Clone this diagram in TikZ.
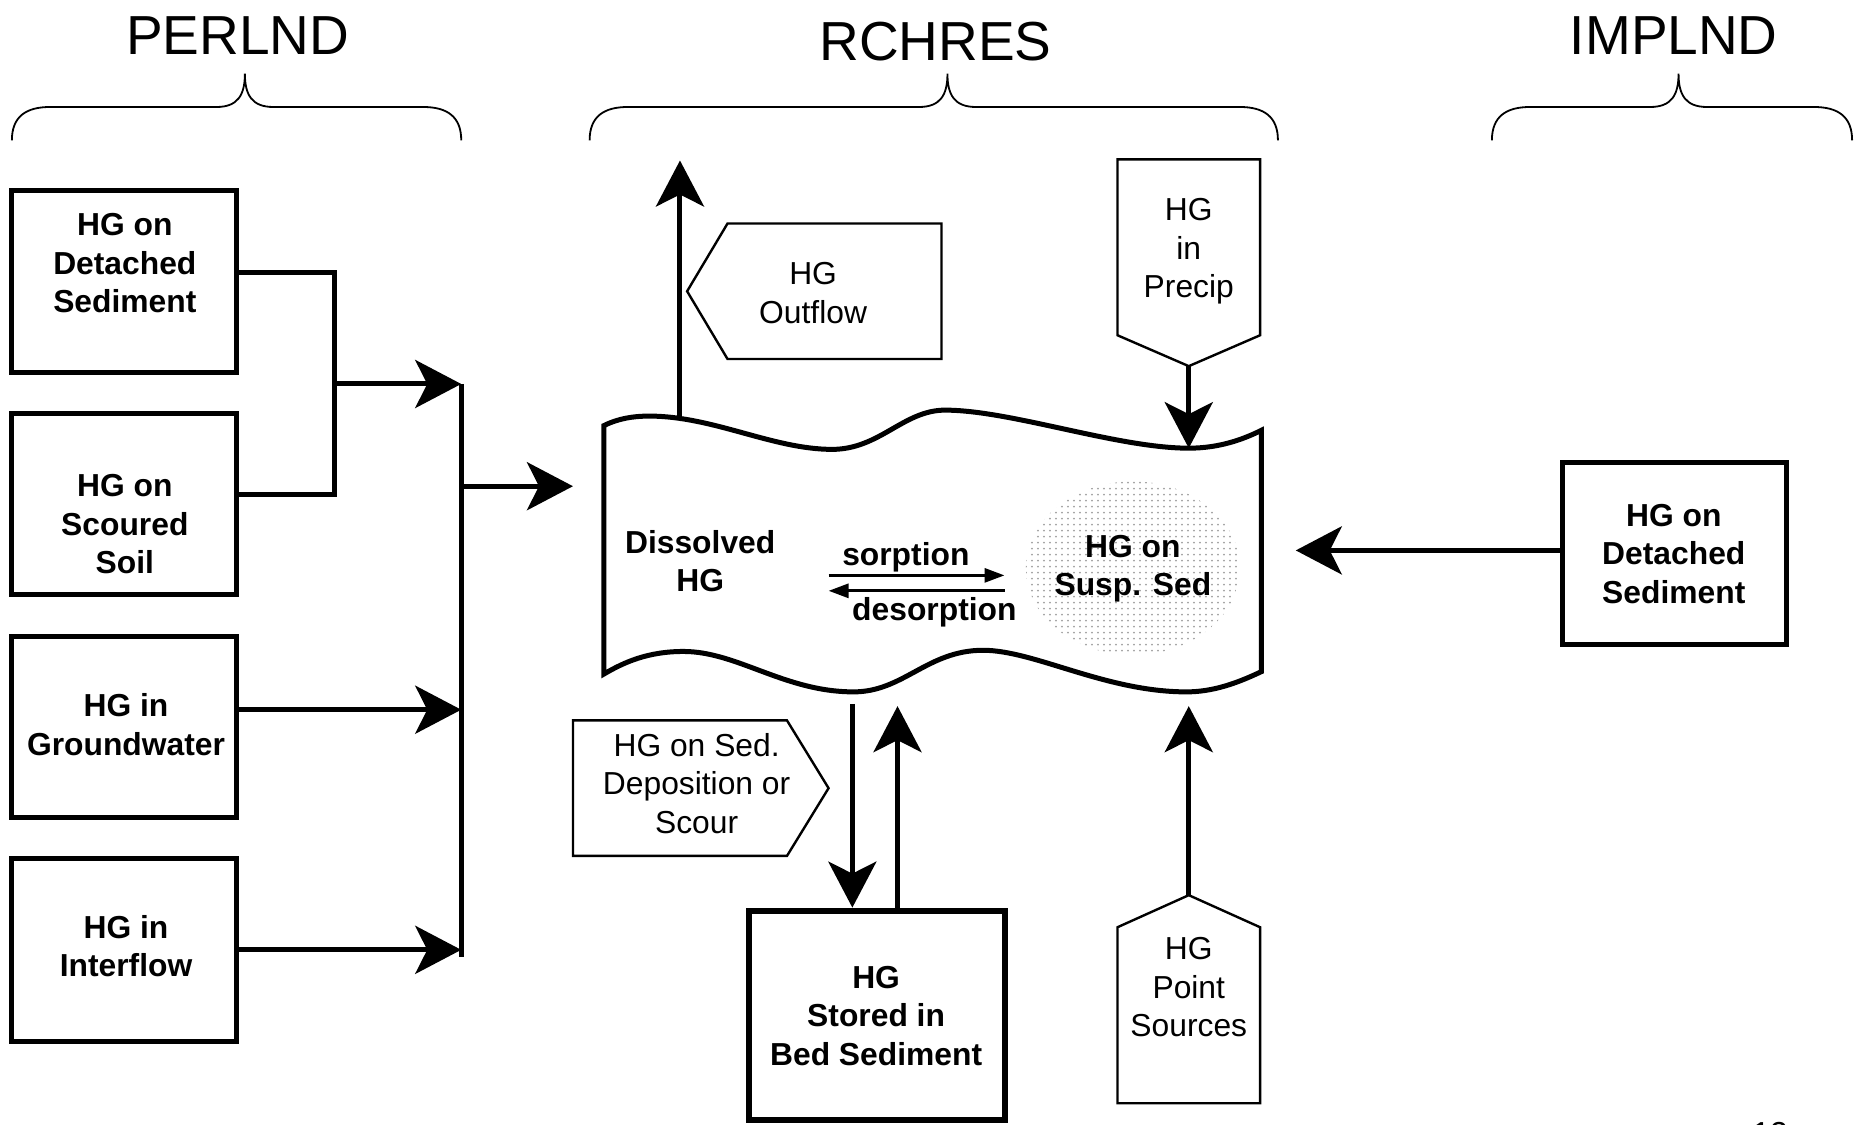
\documentclass[tikz,border=0pt]{standalone}
\usepackage{fontspec}
\setmainfont{Liberation Sans}
\usetikzlibrary{arrows.meta,patterns,shapes.geometric}
\newcommand{\upx}{0.5944pt}
\newcommand{\hgbrace}[3]{%
  \draw[brace] (#1,118) .. controls (#1,98) and (#1+12,90) .. (#1+32,90) -- (#2-24,90)
    .. controls (#2-6,90) and (#2,80) .. (#2,62)
    .. controls (#2,80) and (#2+6,90) .. (#2+24,90) -- (#3-32,90)
    .. controls (#3-12,90) and (#3,98) .. (#3,118);}
\tikzset{
  bigbox/.style={draw, line width=2.5pt, rectangle, inner sep=0pt},
  btxt/.style={font=\bfseries\fontsize{15.9}{19.3}\selectfont, align=center, inner sep=0pt},
  rtxt/.style={font=\fontsize{15.9}{19.3}\selectfont, align=center, inner sep=0pt},
  ttl/.style={font=\fontsize{27.5}{33}\selectfont, inner sep=0pt},
  flow/.style={line width=2.5pt, -{Stealth[length=23pt,width=24pt,inset=6pt]}},
  pipe/.style={line width=2.5pt},
  thinflow/.style={line width=1.5pt, -{Triangle[length=10pt,width=7pt]}},
  tag/.style={draw, line width=1.2pt, line join=miter},
  brace/.style={line width=0.9pt},
  wave/.style={draw, line width=2.5pt, line join=miter},
}
\begin{document}
\begin{tikzpicture}[x=0.5944pt,y=-0.5944pt]
\useasboundingbox (0,0) rectangle (1568,946);

% titles and braces
\node[ttl] (tp) at (200,30) {PERLND};
\node[ttl] (tr) at (787,35) {RCHRES};
\node[ttl] (ti) at (1408,30) {IMPLND};
\hgbrace{10}{206}{388}
\hgbrace{496}{797}{1075}
\hgbrace{1255}{1412}{1558}

% PERLND boxes
\node[bigbox, minimum width=189*\upx, minimum height=153*\upx] (d1) at (104.5,236.5) {};
\node[btxt] (d1t) at (105,221.5) {HG on\\Detached\\Sediment};
\node[bigbox, minimum width=189*\upx, minimum height=152*\upx] (d2) at (104.5,424) {};
\node[btxt] (d2t) at (105,441) {HG on\\Scoured\\Soil};
\node[bigbox, minimum width=189*\upx, minimum height=153*\upx] (d3) at (104.5,611.5) {};
\node[btxt] (d3t) at (106,609.5) {HG in\\Groundwater};
\node[bigbox, minimum width=189*\upx, minimum height=154*\upx] (d4) at (104.5,799) {};
\node[btxt] (d4t) at (106,796) {HG in\\Interflow};

% PERLND connectors
\coordinate (j1) at (281,229);
\coordinate (j2) at (281,416);
\coordinate (jm) at (281,323);
\coordinate (bt) at (388,323);
\coordinate (bb) at (388,805);
\coordinate (b3) at (388,597);
\coordinate (b4) at (388,799);
\coordinate (bo) at (388,409);
\coordinate (rin) at (482,409);
\draw[pipe] (d1.east |- j1) -- (j1) -- (j2) -- (d2.east |- j2);
\draw[flow] (jm) -- (bt);
\draw[pipe] (bt) -- (bb);
\draw[flow] (d3.east |- b3) -- (b3);
\draw[flow] (d4.east |- b4) -- (b4);
\draw[flow] (bo) -- (rin);

% RCHRES wavy body
\draw[wave] (508,567) -- (508,358)
  .. controls (520,352) and (533,350) .. (546,350)
  .. controls (600,350) and (650,378) .. (700,378)
  .. controls (740,378) and (760,345) .. (795,345)
  .. controls (850,345) and (940,377) .. (1000,377)
  .. controls (1025,377) and (1045,370) .. (1061,362)
  -- (1061,565)
  .. controls (1040,575) and (1020,582) .. (998,582)
  .. controls (930,582) and (870,547) .. (827,547)
  .. controls (780,547) and (760,582) .. (718,582)
  .. controls (660,582) and (620,548) .. (575,548)
  .. controls (545,548) and (525,557) .. (508,567) -- cycle;

\node[ellipse, minimum width=180*\upx, minimum height=146*\upx, inner sep=0pt,
      pattern=dots, pattern color=gray!75] (susp) at (953,478) {};
\node[btxt] (dis) at (589,472) {Dissolved\\HG};
\node[btxt] (sus) at (953,478.5) {HG on\\Susp. Sed};
\node[btxt] (sorp) at (762,469) {sorption};
\node[btxt] (desorp) at (786,515) {desorption};
\coordinate (s1a) at (697,484);
\coordinate (s1b) at (845,484);
\coordinate (s2a) at (845,497);
\coordinate (s2b) at (697,497);
\draw[thinflow] (s1a) -- (s1b);
\draw[thinflow] (s2a) -- (s2b);

% Outflow
\draw[tag] (578,245) -- (612,188) -- (792,188) -- (792,302) -- (612,302) -- cycle;
\node[rtxt] (outt) at (684,246.5) {HG\\Outflow};
\coordinate (wtop) at (572,351);
\coordinate (otip) at (572,135);
\draw[flow] (wtop) -- (otip);

% Precip
\draw[tag] (940,134) -- (1060,134) -- (1060,282) -- (1000,308) -- (940,282) -- cycle;
\node[rtxt] (prt) at (1000,211.5) {HG\\in\\Precip};
\coordinate (ptip) at (1000,308);
\coordinate (wprec) at (1000,377);
\draw[flow] (ptip) -- (wprec);

% Deposition / scour
\draw[tag] (482,606) -- (662,606) -- (697,663) -- (662,720) -- (482,720) -- cycle;
\node[rtxt] (dept) at (586,659) {HG on Sed.\\Deposition or\\Scour};

% Bed sediment
\node[bigbox, line width=3pt, minimum width=215*\upx, minimum height=176*\upx] (bed) at (737.5,854) {};
\node[btxt] (bedt) at (737,854.5) {HG\\Stored in\\Bed Sediment};
\coordinate (wb1) at (717,592);
\coordinate (wb2) at (755,594);
\draw[flow] (wb1) -- (wb1 |- bed.north);
\draw[flow] (wb2 |- bed.north) -- (wb2);

% Point sources
\draw[tag] (940,780) -- (1000,753) -- (1060,780) -- (1060,928) -- (940,928) -- cycle;
\node[rtxt] (pst) at (1000,830.5) {HG\\Point\\Sources};
\coordinate (stip) at (1000,753);
\coordinate (wb3) at (1000,594);
\draw[flow] (stip) -- (wb3);

% IMPLND
\node[bigbox, minimum width=189*\upx, minimum height=153*\upx] (imp) at (1408.5,465.5) {};
\node[btxt] (impt) at (1408,466) {HG on\\Detached\\Sediment};
\coordinate (wright) at (1090,463);
\draw[flow] (imp.west |- wright) -- (wright);

% cut-off page number
\begin{scope}
\clip (0,0) rectangle (1568,946);
\node[rtxt] (pg) at (1489,953) {12};
\end{scope}
\end{tikzpicture}
\end{document}
